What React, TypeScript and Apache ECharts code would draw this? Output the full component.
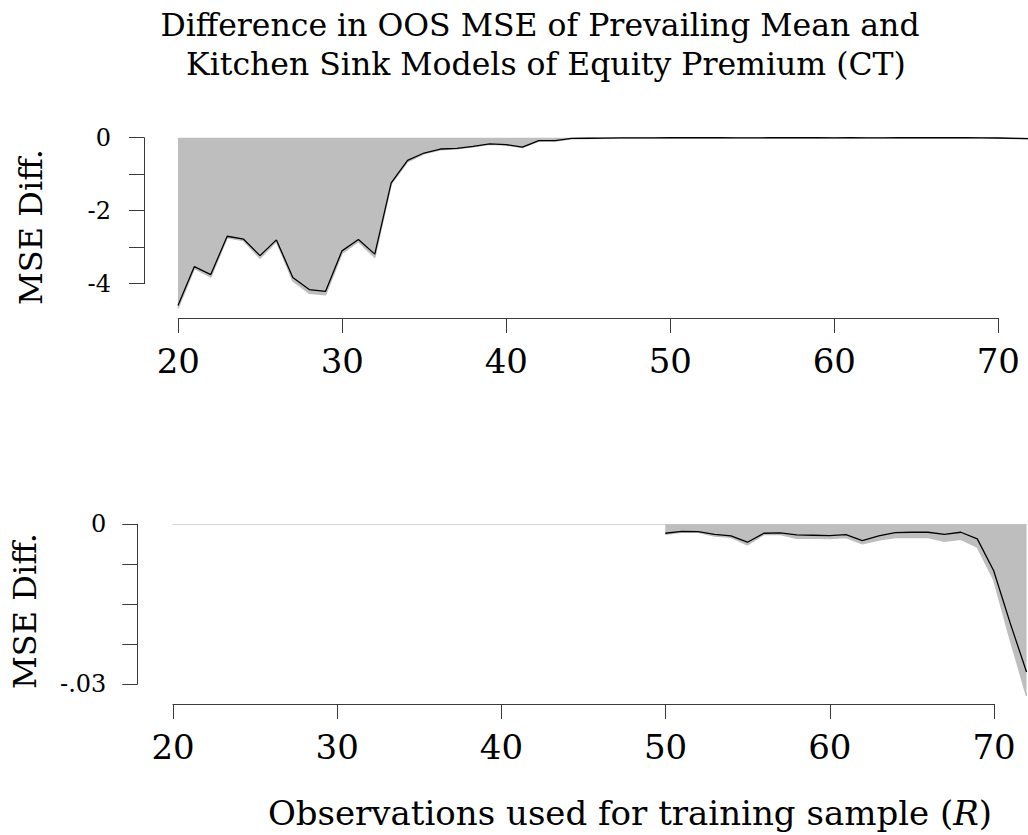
import React, { useEffect, useRef } from "react";
import * as echarts from "echarts";

// Training sample size R
const R = [20, 21, 22, 23, 24, 25, 26, 27, 28, 29, 30, 31, 32, 33, 34, 35, 36, 37, 38, 39, 40, 41, 42, 43, 44, 45, 46, 47, 48, 49, 50, 51, 52, 53, 54, 55, 56, 57, 58, 59, 60, 61, 62, 63, 64, 65, 66, 67, 68, 69, 70, 71, 72];

// Black line: MSE difference
const lineMSE = [
  -4.6, -3.53, -3.75, -2.7, -2.78, -3.23, -2.8, -3.83, -4.16, -4.21,
  -3.1, -2.79, -3.19, -1.24, -0.62, -0.42, -0.31, -0.29, -0.24, -0.17,
  -0.19, -0.26, -0.08, -0.08, -0.02, -0.015, -0.01, -0.007, -0.005, -0.004,
  -0.00168, -0.00131, -0.00137, -0.00187, -0.00218, -0.00336, -0.00168, -0.00162, -0.00199, -0.00205,
  -0.00212, -0.00193, -0.00305, -0.00218, -0.00156, -0.00149, -0.00149, -0.00187, -0.00149, -0.00274,
  -0.00871, -0.01849, -0.0277,
];

// Grey area lower bound
const areaMSE = [
  -4.68, -3.58, -3.82, -2.74, -2.82, -3.3, -2.84, -3.92, -4.26, -4.3,
  -3.17, -2.85, -3.28, -1.27, -0.66, -0.44, -0.33, -0.3, -0.25, -0.18,
  -0.2, -0.27, -0.09, -0.09, -0.03, -0.02, -0.012, -0.009, -0.007, -0.005,
  -0.00187, -0.00149, -0.00149, -0.00218, -0.00243, -0.00386, -0.00193, -0.00193, -0.00261, -0.00261,
  -0.00268, -0.00249, -0.00367, -0.00293, -0.00249, -0.00249, -0.00249, -0.00317, -0.0028, -0.00429,
  -0.01039, -0.0216, -0.0322,
];

const xTickRange = [20, 70];
const xTickStep = 10;
const topYRange = [-4, 0];
const topYStep = 1;
const topYLabels = [0, -2, -4];
const botYRange = [-0.03, 0];
const botYStep = 0.0075;
const botYLabels: [number, string][] = [[0, "0"], [-0.03, "-.03"]];
const bottomStartR = 50;

const TITLE1 = "Difference in OOS MSE of Prevailing Mean and";
const TITLE2 = "Kitchen Sink Models of Equity Premium (CT)";
const YTITLE = "MSE Diff.";

const FONT = "DejaVu Serif";
const AXIS_COLOR = "#3a3a3a";
const GREY = "#bebebe";

export default function App() {
  const ref = useRef<HTMLDivElement>(null);
  useEffect(() => {
    if (!ref.current) return;
    const chart = echarts.init(ref.current, undefined, { renderer: "svg" });

    // layout (pixels)
    const top = { left: 178, zero: 137.7, bottom: 318, pxX: 16.4, pxY: 36.5, yAxisX: 144 };
    const bot = { left: 172.7, zero: 524.3, bottom: 704, pxX: 16.42, pxY: 5333, yAxisX: 137.3 };
    const xMax = R[R.length - 1];

    const pairs = (vals: number[], from: number) =>
      R.map((r, i) => [r, vals[i]]).filter((p) => p[0] >= from);

    const hiddenVal = { type: "value", show: false, min: 0, max: 1 };

    const grids: any[] = [];
    const xAxes: any[] = [];
    const yAxes: any[] = [];

    const xTickAxis = (gi: number) => ({
      type: "value",
      gridIndex: gi,
      min: xTickRange[0],
      max: xTickRange[1],
      interval: xTickStep,
      position: "bottom",
      axisLine: { show: true, lineStyle: { color: AXIS_COLOR, width: 1 } },
      axisTick: { show: true, length: 15, lineStyle: { color: AXIS_COLOR, width: 1 } },
      axisLabel: { show: true, margin: 26, color: "#000", fontFamily: FONT, fontSize: 34 },
      splitLine: { show: false },
    });

    const panel = (p: any, yRange: number[], yStep: number, labelFmt: (v: number) => string, labelMargin: number) => {
      const g0 = grids.length;
      const plotH = p.bottom - p.zero;
      // plot grid
      grids.push({ left: p.left, top: p.zero, width: (xMax - R[0]) * p.pxX, height: plotH, outerBoundsMode: "none" });
      xAxes.push({ type: "value", show: false, gridIndex: g0, min: R[0], max: xMax });
      yAxes.push({ type: "value", show: false, gridIndex: g0, min: -plotH / p.pxY, max: 0 });
      // y axis grid
      grids.push({ left: p.yAxisX, top: p.zero, width: 1, height: (yRange[1] - yRange[0]) * p.pxY, outerBoundsMode: "none" });
      xAxes.push({ ...hiddenVal, gridIndex: g0 + 1 });
      yAxes.push({
        type: "value",
        gridIndex: g0 + 1,
        min: yRange[0],
        max: yRange[1],
        interval: yStep,
        position: "left",
        axisLine: { show: true, lineStyle: { color: AXIS_COLOR, width: 1 } },
        axisTick: { show: true, length: 15, lineStyle: { color: AXIS_COLOR, width: 1 } },
        axisLabel: { show: true, margin: labelMargin, color: "#000", fontFamily: FONT, fontSize: 24, formatter: labelFmt },
        splitLine: { show: false },
      });
      // x axis grid
      grids.push({ left: p.left + 0.3, top: p.bottom - 1, width: (xTickRange[1] - xTickRange[0]) * p.pxX, height: 1, outerBoundsMode: "none" });
      xAxes.push(xTickAxis(g0 + 2));
      yAxes.push({ ...hiddenVal, gridIndex: g0 + 2 });
      return g0;
    };

    const gTop = panel(top, topYRange, topYStep, (v) => (topYLabels.some((l) => Math.abs(l - v) < 1e-9) ? String(Math.round(v)) : ""), 33);
    const gBot = panel(bot, botYRange, botYStep, (v) => {
      const f = botYLabels.find((l) => Math.abs(l[0] - v) < 1e-9);
      return f ? f[1] : "";
    }, 31);

    const areaSeries = (gi: number, from: number, withZeroLine: boolean) => ({
      type: "line",
      xAxisIndex: gi,
      yAxisIndex: gi,
      data: pairs(areaMSE, from),
      showSymbol: false,
      symbol: "none",
      lineStyle: { color: GREY, width: 1.5 },
      areaStyle: { color: GREY, opacity: 1 },
      z: 1,
      markLine: withZeroLine
        ? {
            silent: true,
            symbol: "none",
            label: { show: false },
            lineStyle: { color: "#d4d4d4", width: 1.2, type: "solid" },
            data: [{ yAxis: 0 }],
            z: 0,
          }
        : undefined,
    });
    const lineSeries = (gi: number, from: number) => ({
      type: "line",
      xAxisIndex: gi,
      yAxisIndex: gi,
      data: pairs(lineMSE, from),
      showSymbol: false,
      symbol: "none",
      lineStyle: { color: "#000", width: 1.3 },
      z: 3,
    });

    const textStyle = (size: number) => ({ fontFamily: FONT, fontSize: size, fill: "#000" });

    chart.setOption({
      animation: false,
      backgroundColor: "#fff",
      grid: grids,
      xAxis: xAxes,
      yAxis: yAxes,
      series: [
        areaSeries(gTop, R[0], false),
        lineSeries(gTop, R[0]),
        areaSeries(gBot, bottomStartR, true),
        lineSeries(gBot, bottomStartR),
      ],
      graphic: [
        { type: "text", x: 540, y: 25, style: { ...textStyle(31.5), text: TITLE1, align: "center", verticalAlign: "middle" } },
        { type: "text", x: 546, y: 64, style: { ...textStyle(31.5), text: TITLE2, align: "center", verticalAlign: "middle" } },
        { type: "text", x: 31, y: 227, rotation: Math.PI / 2, style: { ...textStyle(32), text: YTITLE, align: "center", verticalAlign: "middle" } },
        { type: "text", x: 25, y: 611, rotation: Math.PI / 2, style: { ...textStyle(32), text: YTITLE, align: "center", verticalAlign: "middle" } },
        {
          type: "text",
          x: 630,
          y: 813,
          style: {
            text: "{n|Observations used for training sample (}{i|R}{n|)}",
            align: "center",
            verticalAlign: "middle",
            rich: {
              n: { fontFamily: FONT, fontSize: 34, fill: "#000" },
              i: { fontFamily: FONT, fontSize: 34, fontStyle: "italic", fill: "#000" },
            },
          },
        },
      ],
    });
    return () => chart.dispose();
  }, []);
  return <div ref={ref} style={{ position: "absolute", left: 0, top: 0, width: 1028, height: 835 }} />;
}
